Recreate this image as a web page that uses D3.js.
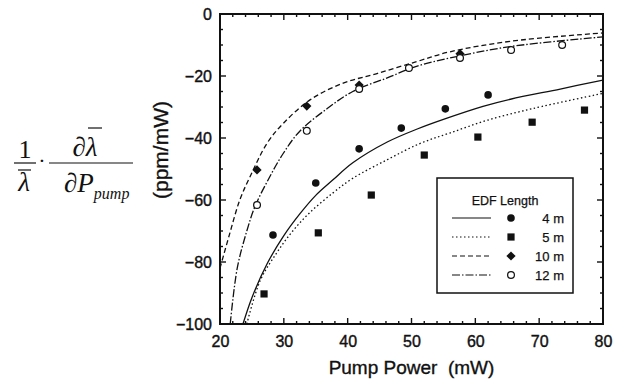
<!DOCTYPE html>
<meta charset="utf-8">
<style>
body { margin: 0; background: #fff; }
text { font-family: "Liberation Sans", Arial, sans-serif; fill: #111; }
.frame { fill: none; stroke: #111; stroke-width: 2px; }
.curve { fill: none; stroke: #111; stroke-width: 1.3px; }
.serif { font-family: "Liberation Serif", "Times New Roman", serif; }
</style>
<body>
<script src="https://d3js.org/d3.v7.min.js"></script>
<script>

// ticks
var xTicks = [20, 30, 40, 50, 60, 70, 80];
var yTicks = [0, -20, -40, -60, -80, -100];

// measured points
var pts4 = [[28.3, -71.3], [35.0, -54.5], [41.8, -43.5], [48.4, -36.8], [55.3, -30.6], [62.0, -26.1]];
var pts5 = [[26.9, -90.3], [35.4, -70.6], [43.7, -58.4], [52.0, -45.5], [60.4, -39.7], [68.9, -34.9], [77.1, -31.0]];
var pts10 = [[25.8, -50.3], [33.6, -29.7], [41.8, -22.9], [57.6, -12.8]];
var pts12 = [[25.8, -61.6], [33.6, -37.7], [41.8, -24.2], [49.6, -17.4], [57.6, -14.2], [65.6, -11.6], [73.6, -10.0]];

// model curves
var line4 = [[23.6, -100], [25, -91.5], [27.4, -80.5], [30, -71.5], [32.5, -64.5], [35, -58.5], [37.7, -53.5],
  [40.8, -48], [46.2, -41.3], [50.9, -37.1], [55, -34], [61.2, -29.8], [65.5, -27.5], [73.3, -24.2], [80, -21.3]];
var line5 = [[24.2, -100], [26.3, -86], [28.9, -77], [31.4, -70], [34.1, -64], [37.7, -57.7], [40.8, -53],
  [46.2, -47], [51.3, -41.8], [56, -38.4], [62, -34.2], [69, -30.5], [80, -25.6]];
var line10 = [[20, -82], [21.5, -71], [23.1, -60], [24.7, -52.5], [27.4, -41.6], [29.9, -35.3], [34.1, -27.7],
  [39.3, -22.3], [44.6, -19.2], [50.9, -15.3], [56, -12.2], [65.5, -8.8], [80, -6.1]];
var line12 = [[21.6, -100], [22.7, -82], [24.2, -70], [25.5, -62], [27.8, -52.5], [29.9, -45], [32.5, -37.8],
  [36.8, -30.5], [40.8, -25.0], [46.2, -20.6], [50.9, -16.8], [56, -14.2], [65.5, -10.5], [80, -7.4]];

var series = [
  {name: "4 m", line: line4, pts: pts4, dash: null, mark: "circle"},
  {name: "5 m", line: line5, pts: pts5, dash: "1.5,2.5", mark: "square"},
  {name: "10 m", line: line10, pts: pts10, dash: "5,3", mark: "diamond"},
  {name: "12 m", line: line12, pts: pts12, dash: "8,2,1.5,2", mark: "open"}
];

var width = 626, height = 390;
var margin = {top: 14, right: 23, bottom: 66, left: 220};
var w = width - margin.left - margin.right,
    h = height - margin.top - margin.bottom;

var svg = d3.select("body").append("svg")
    .attr("width", width)
    .attr("height", height);

var g = svg.append("g")
    .attr("transform", "translate(" + margin.left + "," + margin.top + ")");

var x = d3.scaleLinear().domain([20, 80]).range([0, w]);
var y = d3.scaleLinear().domain([-100, 0]).range([h, 0]);

g.append("clipPath").attr("id", "clip")
  .append("rect").attr("width", w).attr("height", h);

// minor / major inward ticks on all four sides
var xMinor = d3.range(20, 80.1, 2), yMinor = d3.range(-100, 0.1, 5);
function tickLen(v, step) { return (Math.abs(v % step) < 1e-6) ? 6 : 3; }
xMinor.forEach(function(v) {
  var l = tickLen(v, 10);
  g.append("line").attr("x1", x(v)).attr("x2", x(v)).attr("y1", h).attr("y2", h - l).attr("stroke", "#111").attr("stroke-width", 1.4);
  g.append("line").attr("x1", x(v)).attr("x2", x(v)).attr("y1", 0).attr("y2", l).attr("stroke", "#111").attr("stroke-width", 1.4);
});
yMinor.forEach(function(v) {
  var l = tickLen(v, 20);
  g.append("line").attr("x1", 0).attr("x2", l).attr("y1", y(v)).attr("y2", y(v)).attr("stroke", "#111").attr("stroke-width", 1.4);
  g.append("line").attr("x1", w).attr("x2", w - l).attr("y1", y(v)).attr("y2", y(v)).attr("stroke", "#111").attr("stroke-width", 1.4);
});

g.append("rect").attr("class", "frame").attr("width", w).attr("height", h);

// tick labels
var xAxis = g.append("g")
    .attr("transform", "translate(0," + h + ")")
    .call(d3.axisBottom(x).tickValues(xTicks).tickSize(0).tickPadding(12));
var yAxis = g.append("g")
    .call(d3.axisLeft(y).tickValues(yTicks).tickSize(0).tickPadding(8));
[xAxis, yAxis].forEach(function(a) {
  a.select(".domain").remove();
  a.selectAll("text").attr("font-size", 16).attr("font-family", "Liberation Sans, Arial, sans-serif")
    .attr("fill", "#111").attr("stroke", "#111").attr("stroke-width", 0.4);
});

// curves
var valueline = d3.line().curve(d3.curveCatmullRom.alpha(0.5))
    .x(function(d) { return x(d[0]); })
    .y(function(d) { return y(d[1]); });

series.forEach(function(s) {
  g.append("path")
    .datum(s.line)
    .attr("class", "curve")
    .attr("clip-path", "url(#clip)")
    .attr("stroke-dasharray", s.dash)
    .attr("d", valueline);
});

function drawMark(sel, type, cx, cy) {
  if (type === "circle") {
    sel.append("circle").attr("cx", cx).attr("cy", cy).attr("r", 3.8).attr("fill", "#111");
  } else if (type === "open") {
    sel.append("circle").attr("cx", cx).attr("cy", cy).attr("r", 3.4).attr("fill", "#fff").attr("stroke", "#111").attr("stroke-width", 1.2);
  } else if (type === "square") {
    sel.append("rect").attr("x", cx - 3.6).attr("y", cy - 3.6).attr("width", 7.2).attr("height", 7.2).attr("fill", "#111");
  } else if (type === "diamond") {
    var r = 4.6;
    sel.append("path")
      .attr("d", "M" + cx + "," + (cy - r) + "L" + (cx + r) + "," + cy + "L" + cx + "," + (cy + r) + "L" + (cx - r) + "," + cy + "Z")
      .attr("fill", "#111");
  }
}

series.forEach(function(s) {
  var mg = g.append("g");
  s.pts.forEach(function(p) { drawMark(mg, s.mark, x(p[0]), y(p[1])); });
});

// legend
var leg = svg.append("g").attr("transform", "translate(437,178)");
leg.append("rect").attr("width", 136).attr("height", 115)
  .attr("fill", "#fff").attr("stroke", "#111").attr("stroke-width", 1.5);
leg.append("text").attr("x", 68).attr("y", 27).attr("text-anchor", "middle")
  .attr("font-size", 12.5).attr("stroke", "#111").attr("stroke-width", 0.25).text("EDF Length");
series.forEach(function(s, i) {
  var ry = 40 + i * 19;
  leg.append("line").attr("x1", 15).attr("x2", 54).attr("y1", ry).attr("y2", ry)
    .attr("stroke", "#111").attr("stroke-width", 1.1).attr("stroke-dasharray", s.dash);
  drawMark(leg, s.mark, 74, ry);
  leg.append("text").attr("x", 127).attr("y", ry + 5).attr("text-anchor", "end")
    .attr("font-size", 13).attr("stroke", "#111").attr("stroke-width", 0.25).text(s.name);
});

// axis titles
svg.append("text")
  .attr("x", margin.left + w / 2).attr("y", 374)
  .attr("text-anchor", "middle").attr("font-size", 19)
  .attr("stroke", "#111").attr("stroke-width", 0.35)
  .style("white-space", "pre")
  .text("Pump Power  (mW)");

svg.append("text")
  .attr("transform", "translate(168,150) rotate(-90)")
  .attr("text-anchor", "middle").attr("font-size", 21)
  .attr("stroke", "#111").attr("stroke-width", 0.35)
  .text("(ppm/mW)");

// formula label on the left
var f = svg.append("g");
function ftext(xp, yp, size, txt, italic, anchor) {
  return f.append("text").attr("class", "serif").attr("x", xp).attr("y", yp)
    .attr("font-size", size).attr("text-anchor", anchor || "middle")
    .style("font-style", italic ? "italic" : "normal").text(txt);
}
function fline(x1, x2, yy) {
  f.append("line").attr("x1", x1).attr("x2", x2).attr("y1", yy).attr("y2", yy)
    .attr("stroke", "#111").attr("stroke-width", 1.2);
}
ftext(25, 158, 26, "1");
fline(14, 36, 163);
fline(18, 31, 170);
ftext(24, 191, 27, "λ", true);
ftext(42, 168, 22, "·");
ftext(85, 156, 27, "∂λ", true);
fline(88, 102, 128);
fline(49, 133, 163);
var bot = ftext(64, 192, 27, "∂P", true, "start");
bot.append("tspan").attr("dy", 7).attr("font-size", 16).text("pump");

</script>
</body>
